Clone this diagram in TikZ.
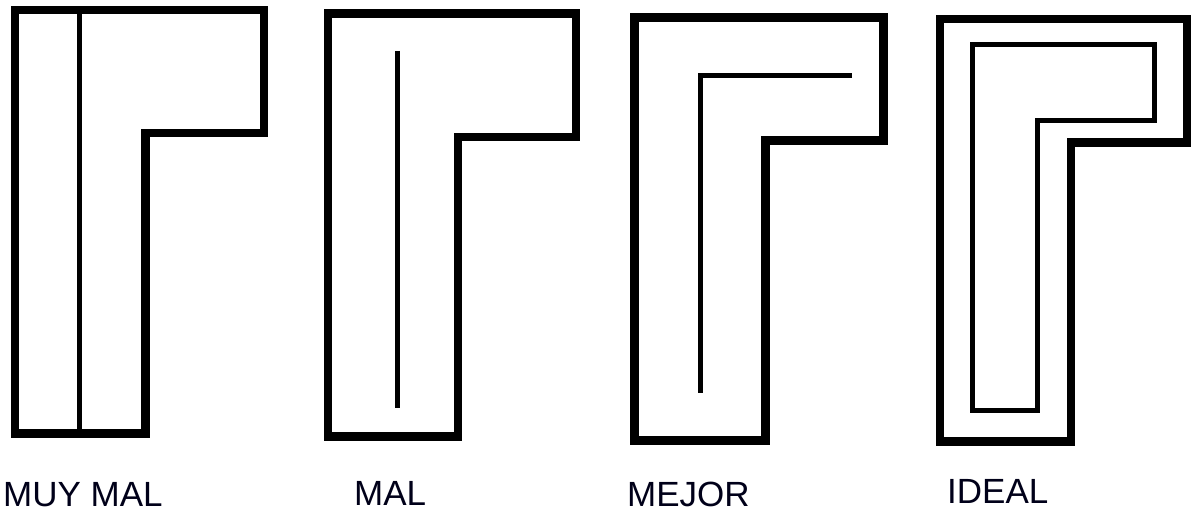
\documentclass[tikz,border=0pt]{standalone}
\usepackage{fontspec}
\setmainfont{Liberation Sans}
\tikzset{
  wall/.style={line width=8.5pt, line join=miter, draw=black},
  inner/.style={line width=5pt, line join=miter, draw=black},
  lbl/.style={anchor=base west, inner sep=0pt, text depth=0pt, font=\fontsize{35}{40}\selectfont, text=black!90!blue}
}
\begin{document}
\begin{tikzpicture}[x=1pt,y=-1pt]
\useasboundingbox[fill=white] (0,0) rectangle (1192,511);
% MUY MAL
\draw[wall] (15,10) -- (264,10) -- (264,133) -- (145.5,133) -- (145.5,433.5) -- (15,433.5) -- cycle;
\draw[inner] (79.5,10) -- (79.5,433.5);
\node[lbl] (t1) at (3,506) {MUY MAL};
% MAL
\draw[wall] (328,13.5) -- (576,13.5) -- (576,137) -- (458,137) -- (458,436.5) -- (328,436.5) -- cycle;
\draw[inner] (397,51) -- (397,408);
\node[lbl] (t2) at (354,505) {MAL};
% MEJOR
\draw[wall] (634.5,17.5) -- (883.5,17.5) -- (883.5,140.5) -- (765.5,140.5) -- (765.5,440.5) -- (634.5,440.5) -- cycle;
\draw[inner] (852,76) -- (700.5,76) -- (700.5,393);
\node[lbl] (t3) at (627,506) {MEJOR};
% IDEAL
\draw[wall] (940,19) -- (1187,19) -- (1187,142.5) -- (1071,142.5) -- (1071,441.5) -- (940,441.5) -- cycle;
\draw[inner] (972,45) -- (1154.5,45) -- (1154.5,120.5) -- (1037.5,120.5) -- (1037.5,410.5) -- (972,410.5) -- cycle;
\node[lbl] (t4) at (947,503) {IDEAL};
\end{tikzpicture}
\end{document}
